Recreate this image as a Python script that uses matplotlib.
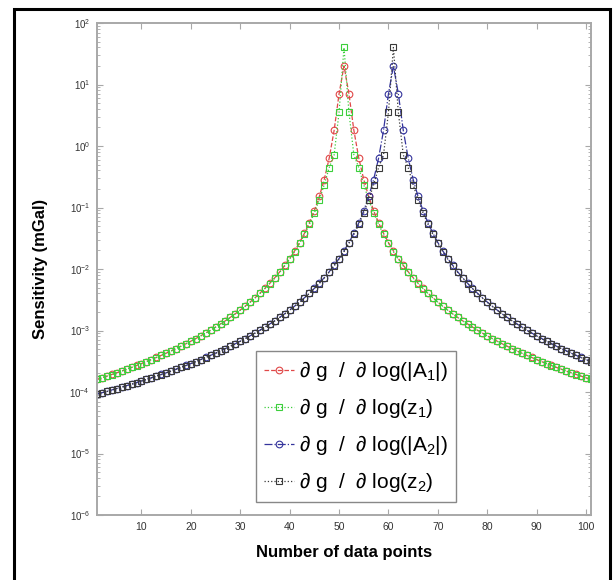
import numpy as np
import matplotlib
matplotlib.use("Agg")
import matplotlib.pyplot as plt
from matplotlib.patches import Rectangle
from matplotlib.ticker import LogLocator, NullFormatter

plt.rcParams["font.family"] = ["Liberation Sans", "DejaVu Sans"]
plt.rcParams["mathtext.fontset"] = "custom"
plt.rcParams["mathtext.rm"] = "Liberation Sans"
plt.rcParams["mathtext.it"] = "Liberation Sans"

# data point index
points = list(range(1, 102))

# |dg / dlog(A1)|, peak over point 51
sens_A1 = [
    1.60e-4, 1.70e-4, 1.81e-4, 1.93e-4, 2.05e-4, 2.19e-4, 2.35e-4, 2.51e-4, 2.70e-4, 2.90e-4,
    3.12e-4, 3.37e-4, 3.64e-4, 3.94e-4, 4.28e-4, 4.66e-4, 5.08e-4, 5.56e-4, 6.09e-4, 6.70e-4,
    7.40e-4, 8.19e-4, 9.09e-4, 1.01e-3, 1.14e-3, 1.28e-3, 1.44e-3, 1.64e-3, 1.87e-3, 2.15e-3,
    2.49e-3, 2.90e-3, 3.41e-3, 4.05e-3, 4.85e-3, 5.89e-3, 7.23e-3, 9.02e-3, 1.15e-2, 1.48e-2,
    1.97e-2, 2.69e-2, 3.82e-2, 5.66e-2, 8.89e-2, 1.51e-1, 2.85e-1, 6.32e-1, 1.79, 7.07,
    2.00e1,
    7.07, 1.79, 6.32e-1, 2.85e-1, 1.51e-1, 8.89e-2, 5.66e-2, 3.82e-2, 2.69e-2, 1.97e-2,
    1.48e-2, 1.15e-2, 9.02e-3, 7.23e-3, 5.89e-3, 4.85e-3, 4.05e-3, 3.41e-3, 2.90e-3, 2.49e-3,
    2.15e-3, 1.87e-3, 1.64e-3, 1.44e-3, 1.28e-3, 1.14e-3, 1.01e-3, 9.09e-4, 8.19e-4, 7.40e-4,
    6.70e-4, 6.09e-4, 5.56e-4, 5.08e-4, 4.66e-4, 4.28e-4, 3.94e-4, 3.64e-4, 3.37e-4, 3.12e-4,
    2.90e-4, 2.70e-4, 2.51e-4, 2.35e-4, 2.19e-4, 2.05e-4, 1.93e-4, 1.81e-4, 1.70e-4, 1.60e-4,
]

# |dg / dlog(z1)|
sens_z1 = [
    1.60e-4, 1.70e-4, 1.81e-4, 1.92e-4, 2.05e-4, 2.19e-4, 2.34e-4, 2.51e-4, 2.69e-4, 2.89e-4,
    3.12e-4, 3.36e-4, 3.63e-4, 3.94e-4, 4.27e-4, 4.65e-4, 5.07e-4, 5.54e-4, 6.08e-4, 6.68e-4,
    7.37e-4, 8.16e-4, 9.06e-4, 1.01e-3, 1.13e-3, 1.27e-3, 1.44e-3, 1.63e-3, 1.86e-3, 2.14e-3,
    2.47e-3, 2.88e-3, 3.38e-3, 4.01e-3, 4.80e-3, 5.81e-3, 7.12e-3, 8.86e-3, 1.12e-2, 1.45e-2,
    1.91e-2, 2.60e-2, 3.64e-2, 5.32e-2, 8.17e-2, 1.33e-1, 2.35e-1, 4.43e-1, 7.16e-1, 3.54,
    4.00e1,
    3.54, 7.16e-1, 4.43e-1, 2.35e-1, 1.33e-1, 8.17e-2, 5.32e-2, 3.64e-2, 2.60e-2, 1.91e-2,
    1.45e-2, 1.12e-2, 8.86e-3, 7.12e-3, 5.81e-3, 4.80e-3, 4.01e-3, 3.38e-3, 2.88e-3, 2.47e-3,
    2.14e-3, 1.86e-3, 1.63e-3, 1.44e-3, 1.27e-3, 1.13e-3, 1.01e-3, 9.06e-4, 8.16e-4, 7.37e-4,
    6.68e-4, 6.08e-4, 5.54e-4, 5.07e-4, 4.65e-4, 4.27e-4, 3.94e-4, 3.63e-4, 3.36e-4, 3.12e-4,
    2.89e-4, 2.69e-4, 2.51e-4, 2.34e-4, 2.19e-4, 2.05e-4, 1.92e-4, 1.81e-4, 1.70e-4, 1.60e-4,
]

# |dg / dlog(A2)|, peak over point 61
sens_A2 = [
    9.26e-5, 9.73e-5, 1.02e-4, 1.08e-4, 1.14e-4, 1.20e-4, 1.27e-4, 1.34e-4, 1.42e-4, 1.51e-4,
    1.60e-4, 1.70e-4, 1.81e-4, 1.93e-4, 2.05e-4, 2.19e-4, 2.35e-4, 2.51e-4, 2.70e-4, 2.90e-4,
    3.12e-4, 3.37e-4, 3.64e-4, 3.94e-4, 4.28e-4, 4.66e-4, 5.08e-4, 5.56e-4, 6.09e-4, 6.70e-4,
    7.40e-4, 8.19e-4, 9.09e-4, 1.01e-3, 1.14e-3, 1.28e-3, 1.44e-3, 1.64e-3, 1.87e-3, 2.15e-3,
    2.49e-3, 2.90e-3, 3.41e-3, 4.05e-3, 4.85e-3, 5.89e-3, 7.23e-3, 9.02e-3, 1.15e-2, 1.48e-2,
    1.97e-2, 2.69e-2, 3.82e-2, 5.66e-2, 8.89e-2, 1.51e-1, 2.85e-1, 6.32e-1, 1.79, 7.07,
    2.00e1,
    7.07, 1.79, 6.32e-1, 2.85e-1, 1.51e-1, 8.89e-2, 5.66e-2, 3.82e-2, 2.69e-2, 1.97e-2,
    1.48e-2, 1.15e-2, 9.02e-3, 7.23e-3, 5.89e-3, 4.85e-3, 4.05e-3, 3.41e-3, 2.90e-3, 2.49e-3,
    2.15e-3, 1.87e-3, 1.64e-3, 1.44e-3, 1.28e-3, 1.14e-3, 1.01e-3, 9.09e-4, 8.19e-4, 7.40e-4,
    6.70e-4, 6.09e-4, 5.56e-4, 5.08e-4, 4.66e-4, 4.28e-4, 3.94e-4, 3.64e-4, 3.37e-4, 3.12e-4,
]

# |dg / dlog(z2)|
sens_z2 = [
    9.25e-5, 9.73e-5, 1.02e-4, 1.08e-4, 1.14e-4, 1.20e-4, 1.27e-4, 1.34e-4, 1.42e-4, 1.51e-4,
    1.60e-4, 1.70e-4, 1.81e-4, 1.92e-4, 2.05e-4, 2.19e-4, 2.34e-4, 2.51e-4, 2.69e-4, 2.89e-4,
    3.12e-4, 3.36e-4, 3.63e-4, 3.94e-4, 4.27e-4, 4.65e-4, 5.07e-4, 5.54e-4, 6.08e-4, 6.68e-4,
    7.37e-4, 8.16e-4, 9.06e-4, 1.01e-3, 1.13e-3, 1.27e-3, 1.44e-3, 1.63e-3, 1.86e-3, 2.14e-3,
    2.47e-3, 2.88e-3, 3.38e-3, 4.01e-3, 4.80e-3, 5.81e-3, 7.12e-3, 8.86e-3, 1.12e-2, 1.45e-2,
    1.91e-2, 2.60e-2, 3.64e-2, 5.32e-2, 8.17e-2, 1.33e-1, 2.35e-1, 4.43e-1, 7.16e-1, 3.54,
    4.00e1,
    3.54, 7.16e-1, 4.43e-1, 2.35e-1, 1.33e-1, 8.17e-2, 5.32e-2, 3.64e-2, 2.60e-2, 1.91e-2,
    1.45e-2, 1.12e-2, 8.86e-3, 7.12e-3, 5.81e-3, 4.80e-3, 4.01e-3, 3.38e-3, 2.88e-3, 2.47e-3,
    2.14e-3, 1.86e-3, 1.63e-3, 1.44e-3, 1.27e-3, 1.13e-3, 1.01e-3, 9.06e-4, 8.16e-4, 7.37e-4,
    6.68e-4, 6.08e-4, 5.54e-4, 5.07e-4, 4.65e-4, 4.27e-4, 3.94e-4, 3.63e-4, 3.36e-4, 3.12e-4,
]

labels = [
    "∂ g  /  ∂ log(|A$_1$|)",
    "∂ g  /  ∂ log(z$_1$)",
    "∂ g  /  ∂ log(|A$_2$|)",
    "∂ g  /  ∂ log(z$_2$)",
]

fig = plt.figure(figsize=(6.16, 5.8), dpi=100)
ax = fig.add_axes([97 / 616, 65 / 580, 494 / 616, 492 / 580])

mk = dict(ms=4.8, mew=0.8, mfc="none", lw=0.9)
ax.plot(points, sens_A1, "--o", color="#e04848", label=labels[0], **mk)
ax.plot(points, sens_z1, ":s", color="#3ccf3c", label=labels[1], **mk)
ax.plot(points, sens_A2, "-.o", color="#34349c", label=labels[2], **mk)
ax.plot(points, sens_z2, ":s", color="#3a3a3a", label=labels[3], **mk)

ax.set_yscale("log")
ax.set_xlim(1, 101)
ax.set_ylim(1e-6, 1e2)
ax.set_xticks(range(10, 101, 10))
ax.yaxis.set_major_locator(LogLocator(base=10, numticks=20))
ax.yaxis.set_minor_locator(LogLocator(base=10, subs=np.arange(2, 10), numticks=20))
ax.yaxis.set_minor_formatter(NullFormatter())

grey = "#a8a8a8"
for s in ax.spines.values():
    s.set_color(grey)
    s.set_linewidth(1.4)
ax.tick_params(which="both", direction="in", top=True, right=True, color=grey,
               labelcolor="#333333")
ax.tick_params(which="major", length=4, width=0.8, labelsize=7.5, pad=5)
ax.tick_params(which="minor", length=2, width=0.6)
ax.tick_params(axis="y", labelsize=7)

ax.set_xlabel("Number of data points", fontsize=12, fontweight="bold")
ax.set_ylabel("Sensitivity (mGal)", fontsize=12, fontweight="bold")
ax.xaxis.set_label_coords(0.5, -0.061)
ax.yaxis.set_label_coords(-0.099, 0.5)

leg = ax.legend(loc="lower left", bbox_to_anchor=(0.322, 0.026), fontsize=15,
                handlelength=1.4, handletextpad=0.25, labelspacing=0.62,
                borderpad=0.4, borderaxespad=0, fancybox=False, framealpha=1,
                edgecolor="#888888")
leg.get_frame().set_linewidth(1.0)

# black frame round the whole picture (bottom edge runs off the page)
fig.patches.append(Rectangle((14 / 616, -0.02), (610 - 14) / 616, 1.02 - 9 / 580,
                             transform=fig.transFigure, fill=False, lw=2.2,
                             ec="black"))

fig.savefig("out.png", dpi=100)
